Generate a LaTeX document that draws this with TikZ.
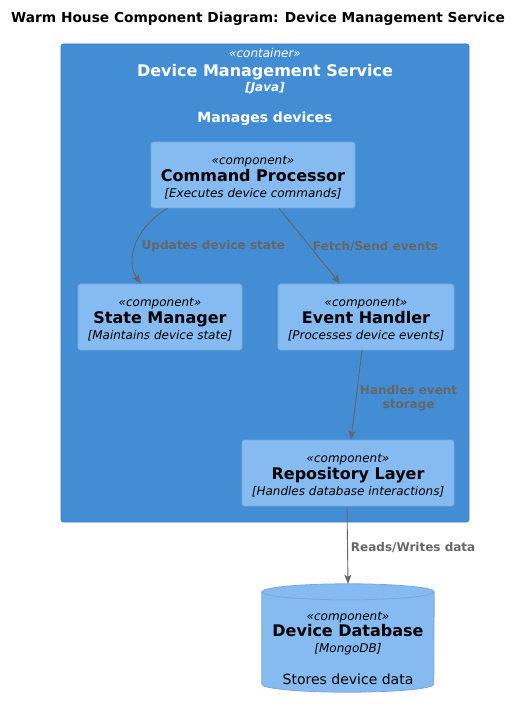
\documentclass[tikz,border=0pt]{standalone}
\usepackage{fontspec}
\setmainfont{DejaVu Sans}
\usepackage{tikz}
\usetikzlibrary{arrows.meta, positioning, calc}
\definecolor{contfill}{RGB}{67,141,213}
\definecolor{contline}{RGB}{60,127,192}
\definecolor{compfill}{RGB}{133,187,240}
\definecolor{compline}{RGB}{120,168,216}
\definecolor{relgray}{RGB}{102,102,102}
\newcommand{\stereo}[1]{{\itshape\rule{0pt}{13pt}«#1»}\\[2pt]}
\tikzset{
  container/.style={rectangle, draw=contline, fill=contfill,
    rounded corners=2.5pt, line width=0.8pt},
  component/.style={rectangle, draw=compline, fill=compfill,
    minimum height=66pt, align=center, rounded corners=2.5pt,
    line width=0.8pt, font=\fontsize{12}{15.5}\selectfont, inner sep=0pt},
  dbbox/.style={rectangle, minimum width=172pt, minimum height=108pt, inner sep=0pt},
  dbline/.style={draw=compline, fill=compfill, line width=0.8pt},
  rel/.style={-{Stealth[length=9pt, width=7pt, inset=2pt]}, line width=0.9pt, color=relgray},
  rellabel/.style={font=\fontsize{12}{14}\selectfont\bfseries, text=relgray,
    align=center, inner sep=2pt}
}

\begin{document}
\begin{tikzpicture}[x=1pt, y=-1pt]
  \fill[white] (0,0) rectangle (528,708);
  \useasboundingbox (0,0) rectangle (528,708);

  % Title
  \node[font=\fontsize{13.75}{16}\selectfont\bfseries] (title) at (258,18.5)
    {Warm House Component Diagram: Device Management Service};

  % Container
  \node[container, minimum width=408pt, minimum height=478pt] (dms) at (265,283) {};
  \node[text=white, align=center, font=\fontsize{12}{15}\selectfont] (dmstitle) at (265,87)
    {{\itshape «container»}\\[4pt]
     {\fontsize{16}{15}\selectfont\bfseries Device Management Service}\\
     {\bfseries\itshape [Java]}\\[16pt]
     {\fontsize{14}{15}\selectfont\bfseries Manages devices}};

  % Components
  \node[component, minimum width=204pt] (cmd) at (253,175)
    {\stereo{component}
     {\fontsize{16}{15.5}\selectfont\bfseries Command Processor}\\
     {\itshape [Executes device commands]}};
  \node[component, minimum width=164pt] (state) at (160,317)
    {\stereo{component}
     {\fontsize{16}{15.5}\selectfont\bfseries State Manager}\\
     {\itshape [Maintains device state]}};
  \node[component, minimum width=176pt] (events) at (366,317)
    {\stereo{component}
     {\fontsize{16}{15.5}\selectfont\bfseries Event Handler}\\
     {\itshape [Processes device events]}};
  \node[component, minimum width=212pt] (repo) at (348,473)
    {\stereo{component}
     {\fontsize{16}{15.5}\selectfont\bfseries Repository Layer}\\
     {\itshape [Handles database interactions]}};

  % Database
  \node[dbbox] (db) at (348,638) {};
  \path[dbline] ([yshift=-8pt]db.north west) -- ([yshift=8pt]db.south west)
    arc[start angle=180, end angle=360, x radius=86pt, y radius=8pt]
    -- ([yshift=-8pt]db.north east)
    arc[start angle=0, end angle=180, x radius=86pt, y radius=8pt] -- cycle;
  \draw[compline, line width=0.8pt] ([yshift=-8pt]db.north west)
    arc[start angle=180, end angle=360, x radius=86pt, y radius=8pt];
  \node[align=center, font=\fontsize{12}{16}\selectfont, inner sep=0pt] (dbtext) at (348,648)
    {{\itshape «component»}\\
     {\fontsize{16}{16}\selectfont\bfseries Device Database}\\
     {\itshape [MongoDB]}\\[16pt]
     {\fontsize{14}{16}\selectfont Stores device data}};

  % Relations
  \draw[rel] ([xshift=17pt]cmd.south west) .. controls (132,230) and (126,262) ..
    node[rellabel, anchor=west, xshift=4pt] {Updates device state}
    ($(state.north west)+(63,0)$);
  \draw[rel] ([xshift=26pt]cmd.south) -- ([xshift=-26pt]events.north)
    node[rellabel, midway, anchor=west, xshift=1pt] {Fetch/Send events};
  \draw[rel] ([xshift=-4pt]events.south) -- ([xshift=3pt]repo.north)
    node[rellabel, midway, anchor=west, xshift=1pt, yshift=-3pt] {Handles event\\storage};
  \draw[rel] ([xshift=-1pt]repo.south) -- (db.north)
    node[rellabel, midway, anchor=west, xshift=1pt, yshift=-2pt] {Reads/Writes data};
\end{tikzpicture}
\end{document}
